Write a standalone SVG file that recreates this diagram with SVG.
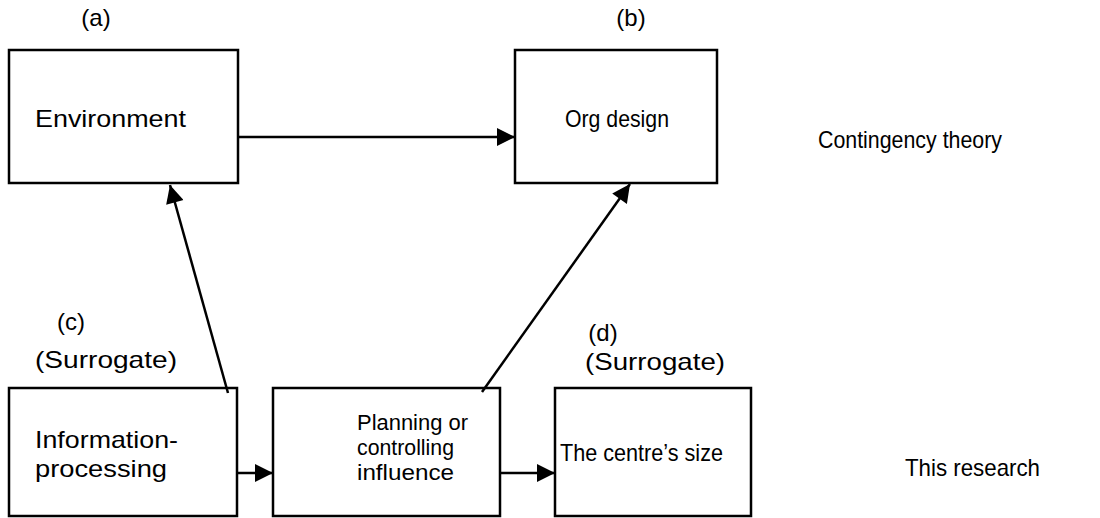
<svg xmlns="http://www.w3.org/2000/svg" width="1100" height="518" viewBox="0 0 1100 518">
<defs>
<style>
.box{fill:#fff;stroke:#000;stroke-width:2.5}
.t{font-family:"Liberation Sans",Arial,sans-serif;font-size:24px;fill:#000}
.s{font-size:22px}
.c{stroke:#000;stroke-width:2.5;fill:none;marker-end:url(#ah)}
</style>
<marker id="ah" viewBox="0 0 10 10" refX="10" refY="5" markerWidth="22" markerHeight="18" markerUnits="userSpaceOnUse" orient="auto">
<path d="M0,0 L10,5 L0,10 Z" fill="#000"/>
</marker>
</defs>
<rect width="1100" height="518" fill="#fff"/>
<g id="node-a">
<rect class="box" x="9" y="50" width="229" height="133"/>
<text class="t" x="96" y="26" text-anchor="middle">(a)</text>
<text class="t" x="35" y="127" textLength="151" lengthAdjust="spacingAndGlyphs">Environment</text>
</g>
<g id="node-b">
<rect class="box" x="515" y="50" width="202" height="133"/>
<text class="t" x="631" y="26" text-anchor="middle">(b)</text>
<text class="t" x="565" y="127" textLength="104" lengthAdjust="spacingAndGlyphs">Org design</text>
</g>
<g id="label-contingency">
<text class="t" x="818" y="148" textLength="184" lengthAdjust="spacingAndGlyphs">Contingency theory</text>
</g>
<g id="node-c">
<rect class="box" x="9" y="388" width="228" height="128"/>
<text class="t" x="71" y="330" text-anchor="middle">(c)</text>
<text class="t" x="35" y="368" textLength="142" lengthAdjust="spacingAndGlyphs">(Surrogate)</text>
<text class="t" x="35" y="448" textLength="143" lengthAdjust="spacingAndGlyphs">Information-</text>
<text class="t" x="35" y="477" textLength="132" lengthAdjust="spacingAndGlyphs">processing</text>
</g>
<g id="node-p">
<rect class="box" x="273" y="388" width="227" height="128"/>
<text class="t s" x="357" y="430" textLength="111" lengthAdjust="spacingAndGlyphs">Planning or</text>
<text class="t s" x="357" y="455" textLength="97" lengthAdjust="spacingAndGlyphs">controlling</text>
<text class="t s" x="357" y="480" textLength="97" lengthAdjust="spacingAndGlyphs">influence</text>
</g>
<g id="node-d">
<rect class="box" x="555" y="388" width="196" height="128"/>
<text class="t" x="603" y="341" text-anchor="middle">(d)</text>
<text class="t" x="585" y="370" textLength="140" lengthAdjust="spacingAndGlyphs">(Surrogate)</text>
<text class="t" x="560" y="461" textLength="163" lengthAdjust="spacingAndGlyphs">The centre’s size</text>
</g>
<g id="label-research">
<text class="t" x="905" y="476" textLength="135" lengthAdjust="spacingAndGlyphs">This research</text>
</g>
<g id="connectors">
<path class="c" d="M238,137 L515,137"/>
<path class="c" d="M228,393 L170,185"/>
<path class="c" d="M482,392 L630,184"/>
<path class="c" d="M237,473 L273,473"/>
<path class="c" d="M500,473 L555,473"/>
</g>
</svg>
